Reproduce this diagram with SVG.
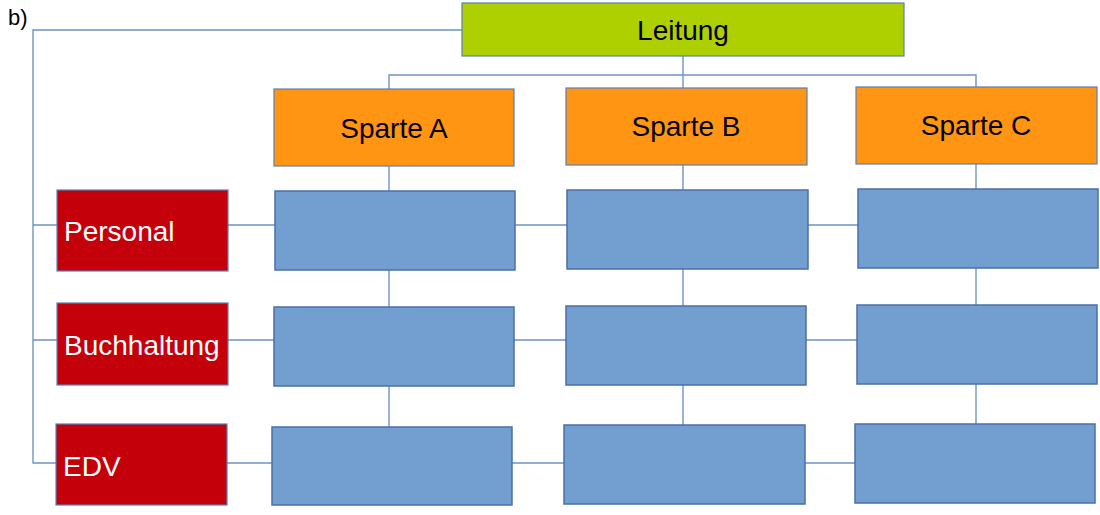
<svg xmlns="http://www.w3.org/2000/svg" width="1100" height="515" viewBox="0 0 1100 515">
  <style>
    .lead { fill: #afd000; stroke: #5b7fb8; stroke-width: 1.2; }
    .div  { fill: #ff9512; stroke: #5b7fb8; stroke-width: 1.2; }
    .fn   { fill: #c4000b; stroke: #5b7fb8; stroke-width: 1.2; }
    .cell { fill: #729fcf; stroke: #4a6fa8; stroke-width: 1.5; }
    .wire { fill: none; stroke: #6f93c6; stroke-width: 1.4; }
    .dark { font-family: "Liberation Sans", Arial, sans-serif; font-size: 28px; fill: #000; text-anchor: middle; }
    .light { font-family: "Liberation Sans", Arial, sans-serif; font-size: 28px; fill: #fff; }
    .tag  { font-family: "Liberation Sans", Arial, sans-serif; font-size: 22px; fill: #000; }
  </style>

  <text class="tag" x="8" y="25">b)</text>

  <!-- connectors -->
  <g id="connectors">
    <!-- Leitung to divisions -->
    <path class="wire" d="M683,56 V88 M389,89 V75 H976 V87"/>
    <!-- Leitung to functional units (left bracket) -->
    <path class="wire" d="M462,30 H33 V463 H56 M33,225 H57 M33,340 H57"/>
    <!-- rows -->
    <path class="wire" d="M228,225 H275 M515,225 H567 M808,225 H858"/>
    <path class="wire" d="M228,340 H274 M514,340 H566 M806,340 H857"/>
    <path class="wire" d="M227,463 H272 M512,463 H564 M805,463 H855"/>
    <!-- columns -->
    <path class="wire" d="M389,166 V191 M389,270 V307 M389,386 V427"/>
    <path class="wire" d="M683,165 V190 M683,269 V306 M683,385 V425"/>
    <path class="wire" d="M976,164 V189 M976,268 V305 M976,384 V424"/>
  </g>

  <g id="leitung">
    <rect class="lead" x="462" y="3" width="442" height="53"/>
    <text class="dark" x="683" y="40">Leitung</text>
  </g>

  <g id="sparte-a">
    <rect class="div" x="274" y="89" width="240" height="77"/>
    <text class="dark" x="394" y="138">Sparte A</text>
  </g>
  <g id="sparte-b">
    <rect class="div" x="566" y="88" width="241" height="77"/>
    <text class="dark" x="686" y="136">Sparte B</text>
  </g>
  <g id="sparte-c">
    <rect class="div" x="856" y="87" width="241" height="77"/>
    <text class="dark" x="976" y="135">Sparte C</text>
  </g>

  <g id="personal">
    <rect class="fn" x="57" y="190" width="171" height="81"/>
    <text class="light" x="64" y="241">Personal</text>
  </g>
  <g id="buchhaltung">
    <rect class="fn" x="57" y="303" width="171" height="82"/>
    <text class="light" x="64" y="355">Buchhaltung</text>
  </g>
  <g id="edv">
    <rect class="fn" x="56" y="424" width="171" height="81"/>
    <text class="light" x="63" y="476">EDV</text>
  </g>

  <g id="a1"><rect class="cell" x="275" y="191" width="240" height="79"/></g>
  <g id="b1"><rect class="cell" x="567" y="190" width="241" height="79"/></g>
  <g id="c1"><rect class="cell" x="858" y="189" width="240" height="79"/></g>
  <g id="a2"><rect class="cell" x="274" y="307" width="240" height="79"/></g>
  <g id="b2"><rect class="cell" x="566" y="306" width="240" height="79"/></g>
  <g id="c2"><rect class="cell" x="857" y="305" width="240" height="79"/></g>
  <g id="a3"><rect class="cell" x="272" y="427" width="240" height="78"/></g>
  <g id="b3"><rect class="cell" x="564" y="425" width="241" height="79"/></g>
  <g id="c3"><rect class="cell" x="855" y="424" width="240" height="79"/></g>
</svg>
